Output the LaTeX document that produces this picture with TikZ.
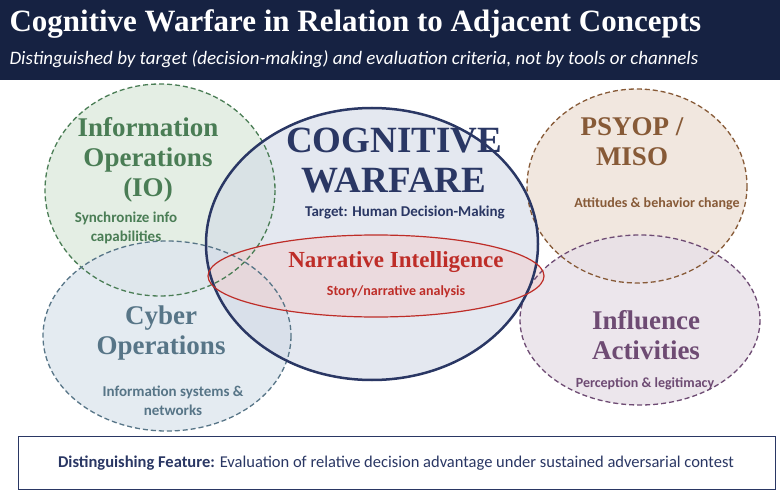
\documentclass[tikz,border=0pt]{standalone}
\usepackage{fontspec}
\setmainfont{Liberation Serif}
\newfontfamily\carl{Carlito}
\begin{document}
\begin{tikzpicture}[x=1pt,y=-1pt,
  head/.style={font=\bfseries\fontsize{27}{30}\selectfont, align=center},
  sub/.style={font=\carl\bfseries\fontsize{15}{19}\selectfont, align=center}]
\useasboundingbox (0,0) rectangle (780,495);
\fill[white] (0,0) rectangle (780,495);
\fill[fill={rgb,255:red,22;green,34;blue,66}] (0,0) rectangle (780,80);
\node[anchor=west, text=white, font=\bfseries\fontsize{31}{34}\selectfont] (title) at (6,24) {Cognitive Warfare in Relation to Adjacent Concepts};
\node[anchor=west, text=white, font=\carl\itshape\fontsize{19}{22}\selectfont] (subt) at (6,59) {Distinguished by target (decision-making) and evaluation criteria, not by tools or channels};
\definecolor{gr}{RGB}{74,125,85}
\definecolor{bl}{RGB}{87,117,135}
\definecolor{nv}{RGB}{42,55,100}
\definecolor{rd}{RGB}{190,45,40}
\definecolor{br}{RGB}{135,90,55}
\definecolor{pu}{RGB}{110,75,115}
\fill[fill={rgb,255:red,222;green,234;blue,222}, opacity=0.8] (160,190) ellipse [x radius=115, y radius=106];
\fill[fill={rgb,255:red,222;green,230;blue,238}, opacity=0.8] (167,336) ellipse [x radius=124, y radius=95];
\fill[fill={rgb,255:red,238;green,226;blue,216}, opacity=0.8] (637,186) ellipse [x radius=110, y radius=97];
\fill[fill={rgb,255:red,232;green,224;blue,232}, opacity=0.8] (640,320) ellipse [x radius=120, y radius=85];
\fill[fill={rgb,255:red,210;green,218;blue,230}, opacity=0.6] (372,244) ellipse [x radius=166, y radius=136];
\fill[fill={rgb,255:red,240;green,210;blue,210}, opacity=0.6] (376,276) ellipse [x radius=168, y radius=41];
\draw[gr, line width=1.3pt, dash pattern=on 5pt off 3pt] (160,190) ellipse [x radius=115, y radius=106];
\draw[bl, line width=1.3pt, dash pattern=on 5pt off 3pt] (167,336) ellipse [x radius=124, y radius=95];
\draw[br, line width=1.3pt, dash pattern=on 5pt off 3pt] (637,186) ellipse [x radius=110, y radius=97];
\draw[pu, line width=1.3pt, dash pattern=on 5pt off 3pt] (640,320) ellipse [x radius=120, y radius=85];
\draw[nv, line width=2.5pt] (372,244) ellipse [x radius=166, y radius=136];
\draw[rd, line width=1.2pt] (376,276) ellipse [x radius=168, y radius=41];
\node[head, text=gr] (io) at (148,160) {Information\\Operations\\(IO)};
\node[sub, text=gr] (ios) at (126,228) {Synchronize info\\capabilities};
\node[head, text=bl] (cy) at (161,333) {Cyber\\Operations};
\node[sub, text=bl] (cys) at (173,401) {Information systems \&\\networks};
\node[text=nv, font=\bfseries\fontsize{37}{40}\selectfont, align=center] (cw) at (394,161) {COGNITIVE\\WARFARE};
\node[sub, text=nv] (cws) at (405,213) {Target: Human Decision-Making};
\node[text=rd, font=\bfseries\fontsize{23}{26}\selectfont] (ni) at (396,262) {Narrative Intelligence};
\node[sub, text=rd, font=\carl\bfseries\fontsize{14}{17}\selectfont] (nis) at (396,292) {Story/narrative analysis};
\node[head, text=br] (ps) at (632,142) {PSYOP /\\MISO};
\node[sub, text=br, font=\carl\bfseries\fontsize{14}{17}\selectfont] (pss) at (657,204) {Attitudes \& behavior change};
\node[head, text=pu] (in) at (646,335) {Influence\\Activities};
\node[sub, text=pu, font=\carl\bfseries\fontsize{14}{17}\selectfont] (ins) at (645,384) {Perception \& legitimacy};
\draw[nv, line width=1pt, fill=white] (18,436) rectangle (775,489);
\node[text=nv, font=\carl\fontsize{16.5}{19}\selectfont] (df) at (396,463) {\textbf{Distinguishing Feature:} Evaluation of relative decision advantage under sustained adversarial contest};
\end{tikzpicture}
\end{document}
